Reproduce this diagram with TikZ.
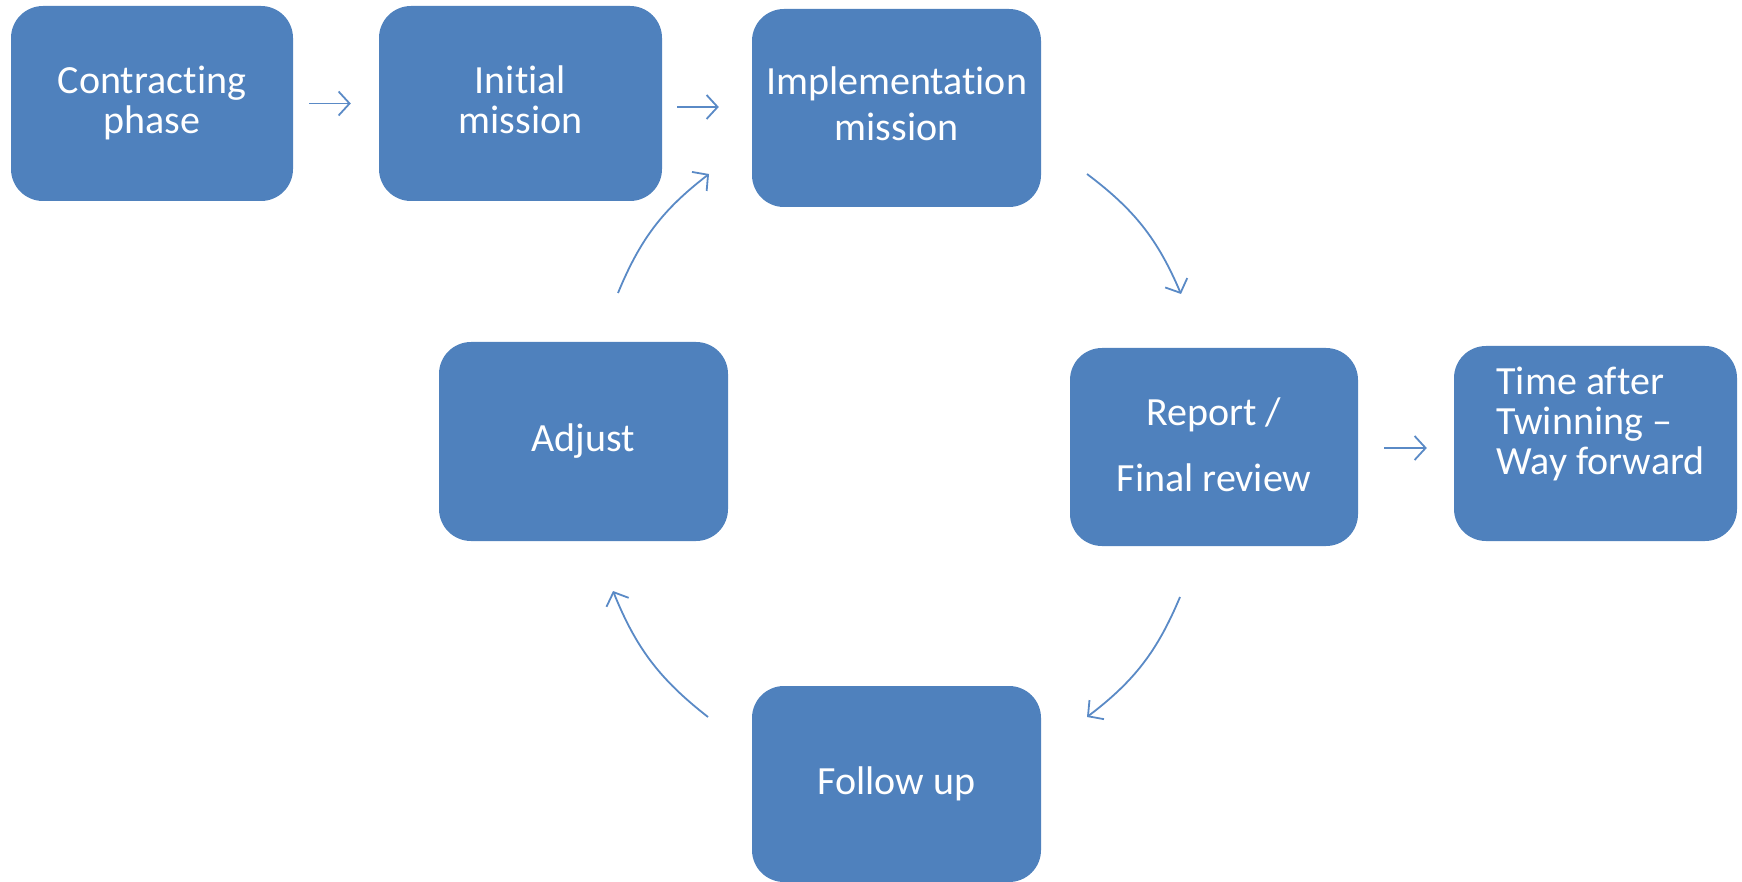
\documentclass[tikz,border=0pt]{standalone}
\usepackage{fontspec}
\setmainfont[Ligatures=NoCommon]{Carlito}
\usetikzlibrary{arrows.meta}
\definecolor{boxblue}{HTML}{4F81BD}
\definecolor{arrblue}{HTML}{5A8AC6}
\tikzset{
  box/.style={fill=boxblue, draw=none, rounded corners=32pt, inner sep=0pt},
  txt/.style={text=white, font=\fontsize{40}{40}\selectfont, align=center, inner sep=0pt},
  conn/.style={draw=arrblue, line width=1.8pt, -{Straight Barb[length=11pt,width=24pt,line width=1.8pt]}},
}
\begin{document}
\begin{tikzpicture}[x=1pt,y=-1pt]
\useasboundingbox (0,0) rectangle (1742,882);
% boxes
\node[box, minimum width=282pt, minimum height=195pt] (c1) at (152,103.5) {};
\node[box, minimum width=283pt, minimum height=195pt] (c2) at (520.5,103.5) {};
\node[box, minimum width=289pt, minimum height=198pt] (c3) at (896.5,108) {};
\node[box, minimum width=288pt, minimum height=198pt] (c4) at (1214,447) {};
\node[box, minimum width=283pt, minimum height=195pt] (c5) at (1595.5,443.5) {};
\node[box, minimum width=289pt, minimum height=199pt] (c6) at (583.5,441.5) {};
\node[box, minimum width=289pt, minimum height=196pt] (c7) at (896.5,784) {};
% texts
\node[txt, yshift=1pt] (t1) at (c1) {Contracting\\phase};
\node[txt, yshift=4pt] (t2) at (c2) {Initial\\mission};
\node[txt, yshift=4pt] (t3) at (c3) {Implementation\\[6pt]mission};
\node[txt, yshift=2pt] (t4) at (c4) {Report /\\[26pt]Final review};
\node[txt, align=left, xshift=5pt, yshift=20pt] (t5) at (c5) {Time after\\Twinning --\\Way forward};
\node[txt] (t6) at (c6) {Adjust};
\node[txt] (t7) at (c7) {Follow up};
% straight connectors
\draw[conn] ([xshift=16pt]c1.east) -- ([xshift=-28pt]c2.west);
\draw[conn] ([xshift=15pt,yshift=-3.5pt]c2.east) -- ([xshift=-33pt,yshift=1pt]c3.west);
\draw[conn] ([xshift=26pt,yshift=-1pt]c4.east) -- ([xshift=-27pt,yshift=-4.5pt]c5.west);
% curved connectors
\coordinate (a1s) at (618,293);
\coordinate (a1e) at (709,174);
\coordinate (a2s) at (1087,174);
\coordinate (a2e) at (1181,294);
\coordinate (a3s) at (1180,597);
\coordinate (a3e) at (1087,717);
\coordinate (a4s) at (708,717);
\coordinate (a4e) at (613,591);
\draw[conn] (a1s) to[bend left=15] (a1e);
\draw[conn] (a2s) to[bend left=15] (a2e);
\draw[conn] (a3s) to[bend left=15] (a3e);
\draw[conn] (a4s) to[bend left=15] (a4e);
\end{tikzpicture}
\end{document}
